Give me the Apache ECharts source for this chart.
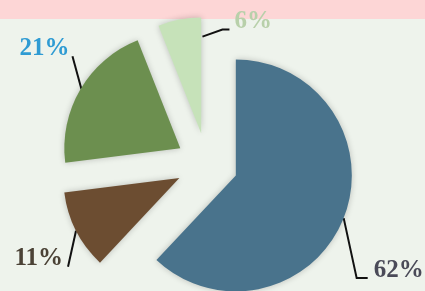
<!DOCTYPE html>
<html>
<head>
<meta charset="utf-8">
<script src="https://cdn.jsdelivr.net/npm/echarts@6/dist/echarts.min.js"></script>
<style>
  html, body { margin: 0; padding: 0; }
  body { width: 425px; height: 291px; overflow: hidden;
         background: linear-gradient(#fdd6d6 0, #fdd6d6 19px, #eef3ec 19px, #eef3ec 100%); }
  #chart { width: 425px; height: 291px; }
</style>
</head>
<body>
<div id="chart"></div>
<script>
// ---- data ----
const categories = ['A', 'B', 'C', 'D'];
const values = [62, 11, 21, 6];
const labelTexts = ['62%', '11%', '21%', '6%'];

// ---- styles / layout ----
const colors = ['#49738c', '#6c4d31', '#6c8f4f', '#c6e2b9'];
const labelColors = ['#4a4a58', '#4b4236', '#2f9bd3', '#b8d0aa'];
const CX = 207, CY = 164, R = 116, OFF = 31;
// leader line offsets relative to the outer-arc midpoint of each exploded slice
const linePts = [
  [[0, 0], [13, 60], [24, 60]],
  [[0, 0], [-8, 36]],
  [[1, 0], [-8, -33]],
  [[23, 17], [43, 10], [50, 10]]
];
const textPos = [[30, 52, 'left'], [-13, 28, 'right'], [-11, -41, 'right'], [55, 2, 'left']];

const total = values.reduce((a, b) => a + b, 0);
const midAngles = [];
let acc = 0;
values.forEach(v => { midAngles.push((acc + v / 2) / total * 2 * Math.PI); acc += v; });

// one pie per exploded slice: same data, only slice k is drawn, centre pushed out along its mid-angle
const series = values.map((_, k) => {
  const a = midAngles[k];
  const cx = CX + Math.sin(a) * OFF;
  const cy = CY - Math.cos(a) * OFF;
  return {
    type: 'pie',
    center: [cx, cy],
    radius: [0, R],
    startAngle: 90,
    clockwise: true,
    silent: true,
    avoidLabelOverlap: false,
    emphasis: { disabled: true },
    label: {
      show: true,
      position: 'outside',
      fontFamily: 'Liberation Serif',
      fontWeight: 'bold',
      fontSize: 25,
      overflow: 'none',
      formatter: p => labelTexts[p.dataIndex]
    },
    labelLine: { show: true, lineStyle: { color: '#111', width: 2 }, smooth: false },
    labelLayout: function (params) {
      const i = params.dataIndex;
      const mx = cx + Math.sin(a) * R;
      const my = cy - Math.cos(a) * R;
      const pts = linePts[i].map(p => [mx + p[0], my + p[1]]);
      while (pts.length < 3) pts.push(pts[pts.length - 1].slice());
      return {
        x: mx + textPos[i][0],
        y: my + textPos[i][1],
        align: textPos[i][2],
        verticalAlign: 'middle',
        labelLinePoints: pts
      };
    },
    data: values.map((v, i) => i === k ? {
      name: categories[i], value: v,
      itemStyle: { color: colors[i], shadowBlur: 6, shadowColor: 'rgba(0,0,0,0.22)' },
      label: { color: labelColors[i] }
    } : {
      name: categories[i], value: v,
      itemStyle: { color: 'rgba(0,0,0,0)' },
      label: { show: false }, labelLine: { show: false }
    })
  };
});

const chart = echarts.init(document.getElementById('chart'), null, { renderer: 'canvas' });
chart.setOption({ backgroundColor: 'transparent', animation: false, series: series });
</script>
</body>
</html>
